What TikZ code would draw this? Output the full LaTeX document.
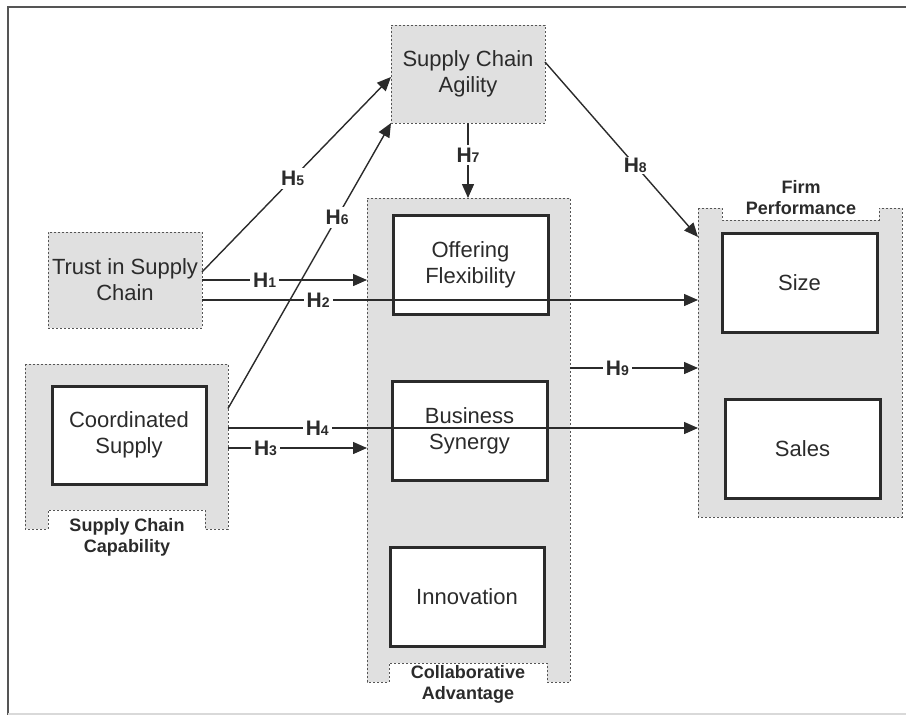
\documentclass[tikz,border=0pt]{standalone}
\usepackage{fontspec}
\setmainfont{Liberation Sans}
\usetikzlibrary{arrows.meta}
\definecolor{panelgray}{HTML}{E0E0E0}
\definecolor{ink}{HTML}{2B2B2B}
\definecolor{dotc}{HTML}{555555}
\newcommand\hlab[1]{{\fontsize{21}{21}\selectfont\bfseries H}{\fontsize{14}{14}\selectfont\bfseries #1}}
\begin{document}
\begin{tikzpicture}[x=1pt,y=-1pt,
  panel/.style={fill=panelgray, draw=dotc, line width=1pt, dash pattern=on 2pt off 2pt},
  dotbox/.style={panel, inner sep=0pt, outer sep=0pt, align=center, text=ink, font=\fontsize{22}{26}\selectfont},
  conbox/.style={draw=ink, line width=3pt, fill=white, inner sep=0pt, outer sep=0pt, align=center, text=ink, font=\fontsize{22}{26}\selectfont},
  holder/.style={draw=none, inner sep=0pt, outer sep=0pt},
  grouplabel/.style={align=center, text=ink, font=\fontsize{18}{21}\selectfont\bfseries},
  link/.style={draw=ink, line width=1.4pt, -{Triangle[length=14pt,width=12pt]}},
  hyp/.style={fill=white, inner sep=3pt, text=ink}
]
\useasboundingbox (0,0) rectangle (906,715);
% frame
\draw[dotc, line width=2pt] (8,715) -- (8,7) -- (906,7);
\draw[black!15, line width=1.5pt] (8,714) -- (906,714);

% panels with notches
\path[panel] (25,364) -- (228,364) -- (228,529) -- (205,529) -- (205,510) -- (48,510) -- (48,529) -- (25,529) -- cycle;
\path[panel] (367,198) -- (570,198) -- (570,682) -- (547,682) -- (547,663) -- (389,663) -- (389,682) -- (367,682) -- cycle;
\path[panel] (698,208) -- (722,208) -- (722,220) -- (879,220) -- (879,208) -- (902,208) -- (902,517) -- (698,517) -- cycle;

% invisible holders for the panels
\node[holder, minimum width=203pt, minimum height=165pt] (cap) at (126.5,446.5) {};
\node[holder, minimum width=203pt, minimum height=484pt] (collab) at (468.5,440) {};
\node[holder, minimum width=204pt, minimum height=309pt] (firm) at (800,362.5) {};

% group labels
\node[grouplabel] (caplabel) at (127,537) {Supply Chain\\Capability};
\node[grouplabel] (collablabel) at (468,684.5) {Collaborative\\Advantage};
\node[grouplabel] (firmlabel) at (801,198) {Firm\\Performance};

% dotted constructs
\node[dotbox, minimum width=154pt, minimum height=98pt] (agility) at (468,74) {Supply Chain\\Agility};
\node[dotbox, minimum width=154pt, minimum height=96pt] (trust) at (125,280) {Trust in Supply\\Chain};

% solid dimensions
\node[conbox, minimum width=154pt, minimum height=98pt] (coord) at (129,435) {Coordinated\\Supply};
\node[conbox, minimum width=155pt, minimum height=99pt] (offer) at (470.5,264.5) {Offering\\Flexibility};
\node[conbox, minimum width=155pt, minimum height=99pt] (synergy) at (469.5,430.5) {Business\\Synergy};
\node[conbox, minimum width=154pt, minimum height=99pt] (innov) at (467,596.5) {Innovation};
\node[conbox, minimum width=155pt, minimum height=99pt] (size) at (799.5,282.5) {Size};
\node[conbox, minimum width=155pt, minimum height=99pt] (sales) at (802.5,448.5) {Sales};

% hypotheses
\draw[link] ([yshift=8pt]trust.east) -- node[hyp, pos=0.48] {\hlab{5}} ([yshift=-3pt]agility.west);
\draw[link] ([yshift=38pt]cap.east) -- node[hyp, pos=0.67] {\hlab{6}} (agility.south west);
\draw[link] (trust.east) -- node[hyp, pos=0.38] {\hlab{1}} (trust.east -| collab.west);
\draw[link] ([yshift=-20pt]trust.east) -- node[hyp, pos=0.234] {\hlab{2}} ([yshift=-20pt]trust.east -| firm.west);
\draw[link] ([yshift=18.5pt]cap.east) -- node[hyp, pos=0.19] {\hlab{4}} ([yshift=18.5pt]cap.east -| firm.west);
\draw[link] ([yshift=-1.5pt]cap.east) -- node[hyp, pos=0.27] {\hlab{3}} ([yshift=-1.5pt]cap.east -| collab.west);
\draw[link] (agility.south) -- node[hyp, pos=0.43] {\hlab{7}} (agility.south |- collab.north);
\draw[link] ([yshift=12pt]agility.east) -- node[hyp, pos=0.59, inner sep=1pt] {\hlab{8}} ([yshift=-29pt]firm.north west);
\draw[link] ([yshift=72pt]collab.east) -- node[hyp, pos=0.37] {\hlab{9}} ([yshift=72pt]collab.east -| firm.west);
\end{tikzpicture}
\end{document}
